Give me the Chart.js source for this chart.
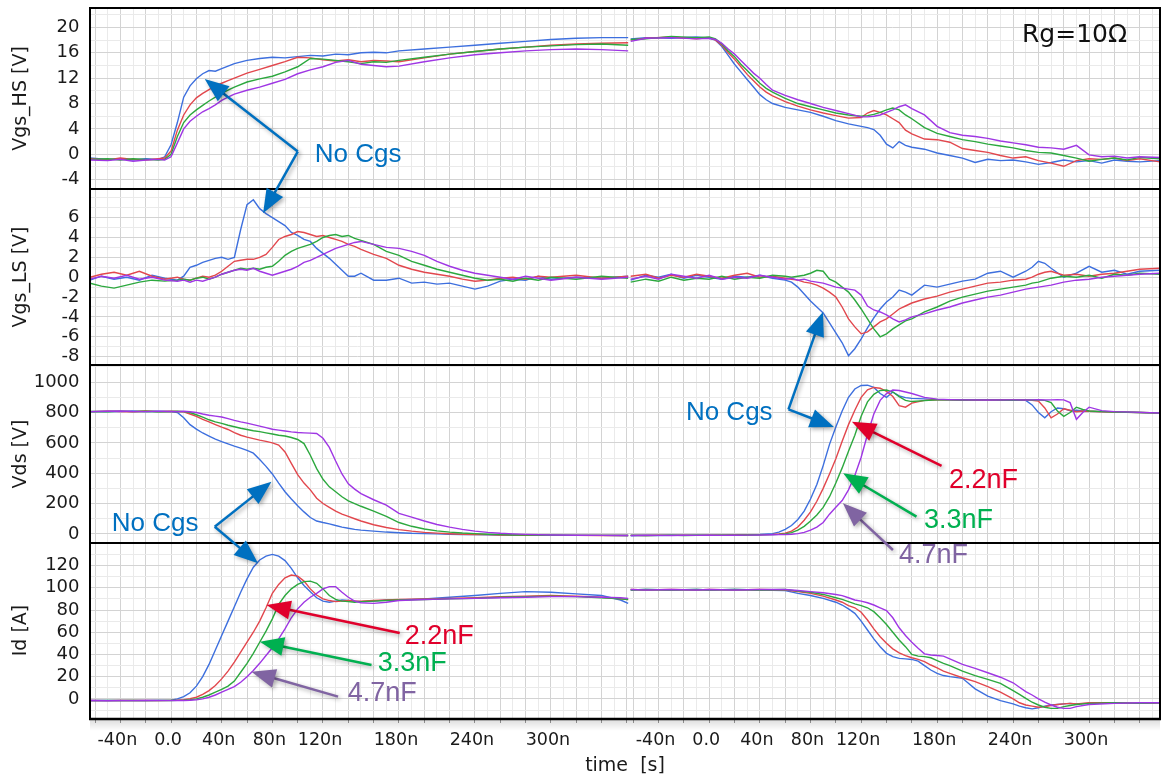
<!DOCTYPE html>
<html>
<head>
<meta charset="utf-8">
<title>Vgs / Vds / Id switching waveforms, Rg=10Ω</title>
<script src="https://cdn.jsdelivr.net/npm/chart.js@4.4.1/dist/chart.umd.min.js"></script>
<style>
html,body{margin:0;padding:0;background:#ffffff;overflow:hidden;}
canvas{display:block;}
</style>
</head>
<body>
<canvas id="chart" width="1161" height="779"></canvas>
<script>
// ================= DATA =================
// turn-on window and turn-off window share one axis; the turn-off window is shifted by OFFSET ns
const OFFSET = 425;
const SERIES_NAMES = ['No Cgs', '2.2nF', '3.3nF', '4.7nF'];
const X_LABEL_TIMES = [-40, 0, 40, 80, 120, 180, 240, 300];
const X_LABEL_TEXTS = ['-40n', '0.0', '40n', '80n', '120n', '180n', '240n', '300n'];
const HS_TICKS = [-4, 0, 4, 8, 12, 16, 20];
const LS_TICKS = [-8, -6, -4, -2, 0, 2, 4, 6];
const VDS_TICKS = [0, 200, 400, 600, 800, 1000];
const ID_TICKS = [0, 20, 40, 60, 80, 100, 120];

// ---- Vgs_HS [V] ----
const T_HS_ON = [-64,-50,-40,-30,-20,-10,-5,
 0,5,10,15,20,25,30,35,40,45,50,
 60,70,80,90,100,110,120,130,140,150,160,170,180,
 200,220,240,260,280,300,320,340,361];
const HS_ON_BLUE = [-0.6,-0.8,-0.7,-0.9,-0.7,-0.8,-0.4,
 1.5,5.0,9.0,10.8,11.9,12.7,13.2,13.1,13.5,13.9,14.3,
 14.8,15.1,15.3,15.2,15.4,15.6,15.5,15.8,15.7,16.0,16.1,16.0,16.3,
 16.6,16.9,17.2,17.5,17.8,18.1,18.3,18.4,18.4];
const HS_ON_RED = [-0.7,-0.9,-0.6,-0.8,-0.9,-0.7,-0.6,
 0.5,3.8,6.2,7.8,8.9,9.6,10.2,10.8,11.2,11.6,12.0,
 12.8,13.4,14.0,14.6,15.3,15.2,14.9,14.7,14.9,14.6,14.8,14.7,14.6,
 15.2,15.8,16.2,16.6,16.9,17.2,17.4,17.5,17.6];
const HS_ON_GREEN = [-0.8,-0.7,-0.9,-0.7,-0.8,-0.9,-0.8,
 0.0,2.8,5.0,6.2,7.0,7.7,8.4,9.0,9.6,10.1,10.6,
 11.4,11.9,12.3,13.0,13.8,15.1,15.0,14.8,14.6,14.3,14.6,14.5,14.8,
 15.3,15.8,16.2,16.6,16.9,17.1,17.3,17.4,17.2];
const HS_ON_PURPLE = [-0.9,-1.0,-0.8,-1.1,-0.9,-0.8,-0.9,
 -0.4,1.8,4.0,5.2,6.0,6.7,7.2,7.8,8.5,9.0,9.5,
 10.1,10.6,11.2,11.8,12.7,13.3,13.8,14.5,14.8,14.2,14.0,13.8,13.9,
 14.6,15.2,15.7,16.0,16.3,16.5,16.6,16.5,16.3];

const T_HS_OFF = [-62,-50,-30,-10,
 0,5,10,15,20,25,30,35,40,45,50,
 60,70,80,90,100,110,120,
 125,130,135,140,145,150,155,160,
 170,180,190,200,210,220,230,240,250,260,270,280,290,300,310,320,330,340,
 356];
const HS_OFF_BLUE = [18.2,18.4,18.3,18.5,
 18.3,18.0,17.0,15.6,14.2,13.0,11.8,10.6,9.4,8.6,8.0,
 7.4,7.0,6.6,6.0,5.3,4.8,4.4,
 4.2,3.9,3.0,1.6,1.0,2.0,1.4,1.1,
 0.8,0.2,-0.2,-0.6,-1.3,-0.8,-1.0,-0.9,-1.2,-1.6,-1.3,-0.9,-1.2,-1.0,-1.4,-0.9,-1.1,-1.2,
 -1.0];
const HS_OFF_RED = [18.0,18.3,18.5,18.2,
 18.4,18.0,17.2,16.0,15.0,13.8,12.6,11.6,10.6,9.8,9.2,
 8.3,7.6,7.0,6.5,6.1,5.7,5.8,
 6.5,6.9,6.6,6.2,5.6,5.0,3.8,3.2,
 2.4,2.3,1.9,0.9,0.6,0.3,-0.2,-0.6,-0.4,-1.0,-1.4,-1.9,-1.0,-0.7,-0.8,-0.6,-1.0,-0.7,
 -1.2];
const HS_OFF_GREEN = [18.1,18.2,18.6,18.4,
 18.5,18.2,17.4,16.3,15.4,14.2,13.2,12.2,11.2,10.4,9.8,
 8.8,8.0,7.5,7.0,6.5,6.2,6.0,
 6.1,6.3,6.6,7.0,7.3,7.0,6.2,5.6,
 4.2,3.3,2.8,2.3,2.0,1.6,1.3,1.0,0.6,0.3,0.2,-0.2,-0.6,-1.1,-0.8,-0.6,-0.9,-0.5,
 -0.7];
const HS_OFF_PURPLE = [17.8,18.3,18.4,18.2,
 18.3,18.1,17.5,16.6,15.8,14.8,13.8,12.8,12.0,11.0,10.1,
 9.3,8.6,8.0,7.4,6.9,6.4,5.9,
 5.9,6.0,6.2,6.6,7.0,7.5,7.8,7.2,
 6.2,4.4,3.4,3.0,2.8,2.5,2.1,1.8,1.5,1.1,1.0,0.8,1.4,-0.1,-0.4,-0.3,-0.6,-0.4,
 -0.5];

// ---- Vgs_LS [V] ----
const T_LS_ON = [-64,-55,-45,-35,-25,-15,-5,
 5,10,15,20,25,30,35,40,45,50,55,60,65,70,75,80,85,90,95,100,105,110,115,120,125,130,135,140,145,150,
 160,170,180,190,200,210,220,230,240,250,260,270,280,290,300,
 320,340,361];
const LS_ON_BLUE = [-0.3,0.1,-0.2,0.0,-0.3,0.2,-0.1,
 -0.3,0.1,1.0,1.2,1.5,1.7,1.9,2.0,1.8,2.0, 4.8,7.3,7.8,6.9,6.4,6.0,5.6,5.2,4.5,4.2, 3.8,3.6,2.9,2.4,1.9,1.3,0.7,0.1,0.1,0.4,
 -0.3,-0.3,-0.1,-0.6,-0.5,-0.7,-0.6,-0.9,-1.2,-0.9,-0.4,-0.2,-0.3,0.1,-0.2,
 0.0,-0.1,0.1];
const LS_ON_RED = [0.0,0.3,0.5,0.2,0.6,0.1,-0.2,
 0.0,-0.2,-0.3,-0.1,0.1,0.0,0.2,0.6,1.1,1.6, 1.7,1.8,1.8,2.0,2.3,3.0,3.8,4.1,4.3,4.6, 4.5,4.3,4.1,4.2,4.0,3.8,3.6,3.3,3.1,2.8,
 2.3,1.9,1.2,0.8,0.5,0.3,0.1,-0.2,-0.4,-0.3,-0.1,0.0,-0.2,0.1,0.0,
 0.2,-0.1,0.1];
const LS_ON_GREEN = [-0.6,-0.9,-1.1,-0.8,-0.5,-0.3,-0.4,
 -0.3,-0.2,-0.3,-0.1,0.0,-0.2,0.0,0.3,0.5,0.7, 0.9,0.8,0.9,0.8,1.0,1.1,1.6,2.2,2.6,2.9, 3.1,3.3,3.6,4.0,4.2,4.3,4.1,4.2,3.9,3.7,
 3.3,2.6,2.2,1.6,1.2,0.8,0.5,0.2,-0.1,-0.3,-0.2,-0.4,-0.1,-0.3,0.0,
 -0.2,0.1,-0.1];
const LS_ON_PURPLE = [-0.2,0.1,-0.1,0.2,-0.2,0.0,-0.3,
 -0.4,-0.3,-0.5,-0.3,-0.4,-0.2,0.0,0.3,0.5,0.7, 0.8,0.7,0.9,0.6,0.4,0.2,0.4,0.6,0.8,1.1, 1.5,1.7,2.0,2.3,2.6,2.9,3.1,3.3,3.5,3.6,
 3.3,3.0,2.9,2.6,2.2,1.6,1.1,0.7,0.4,0.2,0.0,-0.2,0.1,-0.1,-0.3,
 0.0,-0.2,0.0];

const T_LS_OFF = [-62,-50,-40,-30,-20,-10,
 0,10,20,30,40,50,60,
 65,70,75,80,85,90,95,100,105,110,115,120,125,130,135,140,145,150,155,160,
 170,180,190,200,210,220,230,240,250,
 255,260,265,270,
 280,290,300,310,320,330,340,
 356];
const LS_OFF_BLUE = [-0.3,0.2,0.0,0.3,-0.1,0.2,
 0.0,-0.2,0.1,0.0,0.2,-0.1,-0.3,
 -0.5,-1.0,-1.7,-2.4,-3.0,-3.6,-4.6,-5.6,-6.6,-7.9, -7.2,-6.2,-5.1,-4.1,-3.2,-2.5,-2.0,-1.3,-1.5,-1.8,
 -0.8,-1.0,-0.7,-0.4,-0.2,0.4,0.6,0.0,0.6,
 1.0,1.6,1.4,0.9,
 0.0,0.4,1.1,0.5,0.7,0.3,0.6,
 0.7];
const LS_OFF_RED = [0.1,0.3,-0.1,0.2,0.0,0.3,
 0.1,-0.1,0.2,0.4,0.0,0.1,-0.1,
 -0.2,-0.3,-0.5,-0.6,-0.8,-1.1,-1.5,-2.0,-3.0,-4.2, -5.0,-5.7,-5.5,-5.0,-4.5,-4.2,-3.7,-3.2,-2.9,-2.6,
 -2.2,-1.9,-1.5,-1.2,-0.9,-0.6,-0.5,-0.3,-0.2,
 0.0,0.3,0.5,0.6,
 0.2,0.3,0.1,0.3,0.4,0.6,0.8,
 0.9];
const LS_OFF_GREEN = [-0.5,-0.2,-0.4,0.0,-0.3,-0.1,
 -0.2,0.1,-0.2,0.0,-0.1,0.2,0.1,
 0.0,0.1,0.2,0.4,0.7,0.6,-0.2,-0.5,-1.0,-1.5, -2.3,-3.2,-4.2,-5.2,-6.0,-5.7,-5.2,-4.8,-4.4,-4.2,
 -3.5,-3.0,-2.4,-2.0,-1.7,-1.4,-1.2,-1.0,-0.8,
 -0.6,-0.5,-0.3,-0.1,
 0.1,0.0,0.2,-0.1,0.3,0.2,0.4,
 0.3];
const LS_OFF_PURPLE = [-0.2,0.1,-0.2,0.3,0.1,-0.1,
 0.2,-0.2,0.0,-0.1,0.2,0.0,-0.2,
 -0.1,-0.3,-0.2,-0.4,-0.5,-0.6,-0.8,-1.0,-1.1,-1.2, -1.3,-1.8,-2.9,-3.3,-3.5,-3.8,-4.2,-4.5,-4.3,-4.0,
 -3.7,-3.3,-3.0,-2.6,-2.3,-2.0,-1.8,-1.5,-1.2,
 -1.1,-1.0,-0.9,-0.8,
 -0.5,-0.3,-0.2,0.0,0.1,0.2,0.3,
 0.4];

// ---- Vds [V] ----
const T_VDS_ON = [-64,-50,-40,-30,-20,-10,0,
 5,10,15,20,25,30,35,40,45,50,55,60,65,70,75,80,85,90,95,100,105,110,115,120,125,130,135,140,145,150,
 160,170,180,190,200,210,220,230,240,250,260,270,280,
 300,320,340,361];
const VDS_ON_BLUE = [805,808,806,810,807,808,806,
 800,765,720,690,665,645,625,608,593,578, 565,550,532,490,445,395,335,278,230,185, 145,108,85,75,66,55,45,37,30,25,
 18,12,8,4,2,0,-2,-4,-5,-6,-7,-8,-8,
 -9,-10,-10,-11];
const VDS_ON_RED = [806,809,807,805,810,806,808,
 807,805,790,775,755,738,720,703,688,668, 650,638,628,618,610,600,585,540,465,390, 335,290,235,200,175,150,130,115,100,85,
 60,42,28,18,10,5,1,-2,-4,-5,-7,-8,-9,
 -10,-10,-11,-11];
const VDS_ON_GREEN = [807,805,809,806,808,805,807,
 808,806,800,785,770,752,738,728,716,706, 696,688,680,674,666,658,650,645,635,622, 595,518,430,360,310,278,245,218,200,182,
 150,115,75,50,32,20,12,6,2,-2,-5,-7,-8,
 -9,-10,-10,-11];
const VDS_ON_PURPLE = [806,808,810,807,806,809,807,
 806,808,805,800,790,782,776,770,760,748, 738,730,720,710,700,690,684,678,672,668, 666,664,662,630,570,480,395,330,295,265,
 225,190,135,110,85,62,45,30,18,10,4,0,-3,
 -7,-9,-10,-11];

const T_VDS_OFF = [-62,-50,-40,-30,-20,-10,
 0,10,20,30,40,50,
 55,60,65,70,75,80,85,90,95,100,105,110,115,120,125,130,135,140,145,150,155,160,
 170,180,190,200,
 220,240,
 250,255,260,265,270,275,280,285,290,295,300,
 310,320,340,
 356];
const VDS_OFF_BLUE = [-12,-10,-11,-9,-10,-8,
 -9,-8,-7,-6,-4,2,
 12,30,55,95,150,230,325,450,590,705,810, 900,955,978,980,965,925,900,935,910,898,893,
 890,885,884,882,
 883,882,
 880,850,800,765,805,830,825,812,815,810,808,
 806,804,800,
 796];
const VDS_OFF_RED = [-10,-11,-9,-10,-8,-10,
 -8,-9,-7,-6,-5,-3,
 0,5,18,45,90,145,215,300,395,495,610, 720,815,900,950,965,960,940,905,845,835,862,
 880,884,883,882,
 884,882,
 883,880,875,830,765,790,825,815,805,810,808,
 805,803,800,
 797];
const VDS_OFF_GREEN = [-9,-11,-10,-8,-11,-9,
 -10,-8,-9,-7,-6,-5,
 -3,0,8,25,50,85,125,175,245,335,435, 545,650,775,870,920,945,948,935,905,880,872,
 878,884,883,882,
 883,881,
 882,883,882,880,865,810,775,800,835,820,810,
 806,803,800,
 797];
const VDS_OFF_PURPLE = [-11,-9,-10,-11,-9,-10,
 -8,-10,-9,-8,-7,-6,
 -5,-4,-2,2,10,25,45,75,130,175,220, 290,385,505,655,790,880,925,948,945,935,925,
 900,888,885,883,
 882,883,
 882,883,884,882,883,884,883,865,755,800,835,
 812,806,801,
 797];

// ---- Id [A] ----
const T_ID_ON = [-64,-50,-40,-30,-20,-10,0,
 5,10,15,20,25,30,35,40,45,50,55,60,65,70,75,80,85,90,95,100,105,110,115,120,125,130,135,140,145,150,
 160,170,180,
 200,220,240,260,280,300,320,340,
 355,361];
const ID_ON_BLUE = [-1.5,-1.3,-1.6,-1.4,-1.5,-1.3,-1.2,
 0.0,2.0,5.5,11.5,20,31,44,57,70,83, 96,108,118.5,125,128.5,130,128.5,124.5,117.5,109, 102,96.5,91,88,87,88,89,88.5,88,87.5,
 88,89,89,
 90,91.5,93,95,96.5,96,94.5,93,
 89,86];
const ID_ON_RED = [-1.4,-1.6,-1.3,-1.5,-1.4,-1.6,-1.3,
 -1.2,-0.8,0.2,1.5,4,7.5,12,18,25,33, 42,51,60,70,82,95,103,109,111.5,110.5, 106,99,93.5,90,88.5,87.5,88,88.5,88,88,
 88.5,89,89.5,
 90,90.5,91,92,92.5,93,92.5,91.5,
 90,89.5];
const ID_ON_GREEN = [-1.6,-1.4,-1.5,-1.3,-1.6,-1.4,-1.5,
 -1.3,-1.2,-0.8,0,1.5,3.5,6,8.5,11.5,16, 24,32,41,51,61,72,85,93,99,103, 105.5,106,104,99,93,89.5,88,87.5,87,87.5,
 88,88.5,89,
 89.5,90,90.5,91.5,92,92.5,92,91,
 90,89.5];
const ID_ON_PURPLE = [-1.5,-1.7,-1.4,-1.6,-1.5,-1.3,-1.6,
 -1.5,-1.4,-1.2,-0.8,0,1.5,3.5,6,8.5,11, 15,20,25.5,32,39,46,54,63,73,81, 87,91.5,95,99,101,101,96,91.5,88,86.5,
 86,87,88.5,
 89.5,90,90.5,91,91.5,92,92,91.5,
 91,90.5];

const T_ID_OFF = [-62,-50,-30,-10,
 0,20,40,60,
 70,80,90,100,
 105,110,115,120,125,130,135,140,145,150,155,160,165,170,175,180,185,190,
 200,210,220,230,240,
 245,250,255,260,265,270,275,280,285,290,
 300,320,340,
 356];
const ID_OFF_BLUE = [98,98.5,98,98.5,
 98,98.5,98,97.5,
 95,93,90.5,87,
 84.5,81,77,70,62,54,47,41,38,36.5,36,35.5,34,30,26,23,21,20,
 18.5,9,2.5,-1.5,-4.5,
 -6.5,-8,-9,-8,-6.5,-5.5,-5,-4.5,-4,-4.5,
 -4,-3.5,-4,
 -3.5];
const ID_OFF_RED = [98.5,98,98.5,98,
 98.5,98,98.5,98,
 96.5,95,92.5,89,
 87,84,82,78,71,63,56,50,45,41.5,39,37,35.5,33.5,30.5,28,25,23,
 19,15.5,11,6,0,
 -3.5,-5.5,-6.5,-7.5,-7,-6,-5,-4.5,-4,-4.5,
 -3.5,-3.5,-4,
 -3.5];
const ID_OFF_GREEN = [98,98.5,98,98.5,
 98,98.5,98,98.5,
 97,96,94,91,
 89.5,87.5,85.5,84,82,78.5,73,67,60,53,47,40,38.5,38,37,34.5,32,30,
 25,21,17.5,14,7.5,
 4,0.5,-3,-5.5,-7.5,-8.5,-8.5,-7,-6,-5,
 -4,-3.5,-4,
 -3.5];
const ID_OFF_PURPLE = [98.5,98,98.5,98,
 98.5,98,98.5,98.5,
 97.5,96.5,95.5,94,
 93,91,89,88,86.5,84.5,82,79.5,73,64,57,51,45.5,40.5,39.5,39,38.5,36,
 31,27.5,23.5,19.5,14.5,
 10.5,6.5,3.5,0,-3,-5.5,-7.5,-8.5,-8.5,-7,
 -5,-4,-3.5,
 -3.5];

// ================= STYLE / LAYOUT =================
const FONT = '"DejaVu Sans", Verdana, sans-serif';
const NOTE_FONT = '"Liberation Sans", Arial, sans-serif';
const TRACE_COLORS = ['#3d6fde', '#e2474d', '#2ca83e', '#9f36e4'];
const GRID_MAJOR = '#d3d3d3', GRID_MINOR = '#eaeaea';
const NOTE_BLUE = '#0070c0', NOTE_RED = '#e0002b', NOTE_GREEN = '#00b050', NOTE_PURPLE = '#8064a2';

const problems = [];
function pts(name, times, vals, shift) {
  if (times.length !== vals.length) problems.push(name + ' ' + times.length + '/' + vals.length);
  return times.map((t, i) => ({x: t + shift, y: vals[i]}));
}

const PANELS = [
  {axis: 'yHS', name: 'HS', tOn: T_HS_ON, on: [HS_ON_BLUE, HS_ON_RED, HS_ON_GREEN, HS_ON_PURPLE],
   tOff: T_HS_OFF, off: [HS_OFF_BLUE, HS_OFF_RED, HS_OFF_GREEN, HS_OFF_PURPLE]},
  {axis: 'yLS', name: 'LS', tOn: T_LS_ON, on: [LS_ON_BLUE, LS_ON_RED, LS_ON_GREEN, LS_ON_PURPLE],
   tOff: T_LS_OFF, off: [LS_OFF_BLUE, LS_OFF_RED, LS_OFF_GREEN, LS_OFF_PURPLE]},
  {axis: 'yVds', name: 'VDS', tOn: T_VDS_ON, on: [VDS_ON_BLUE, VDS_ON_RED, VDS_ON_GREEN, VDS_ON_PURPLE],
   tOff: T_VDS_OFF, off: [VDS_OFF_BLUE, VDS_OFF_RED, VDS_OFF_GREEN, VDS_OFF_PURPLE]},
  {axis: 'yId', name: 'ID', tOn: T_ID_ON, on: [ID_ON_BLUE, ID_ON_RED, ID_ON_GREEN, ID_ON_PURPLE],
   tOff: T_ID_OFF, off: [ID_OFF_BLUE, ID_OFF_RED, ID_OFF_GREEN, ID_OFF_PURPLE]}
];

const datasets = [];
for (const p of PANELS) {
  for (let s = 3; s >= 0; s--) {   // 4.7nF first so it is painted on top
    const common = {label: SERIES_NAMES[s], xAxisID: 'x', yAxisID: p.axis, borderColor: TRACE_COLORS[s],
      backgroundColor: TRACE_COLORS[s], borderWidth: 1.4, pointRadius: 0, tension: 0, fill: false};
    datasets.push(Object.assign({}, common, {data: pts(p.name + '_ON_' + s, p.tOn, p.on[s], 0)}));
    datasets.push(Object.assign({}, common, {data: pts(p.name + '_OFF_' + s, p.tOff, p.off[s], OFFSET)}));
  }
}

const localT = v => (v > 362 ? v - OFFSET : v);
const isMajorX = v => Math.abs(localT(v) % 20) < 1e-6;

function yAxis(title, min, max, step, labelled, weight) {
  return {
    type: 'linear', position: 'left', stack: 'panels', stackWeight: weight, min: min, max: max,
    afterBuildTicks(scale) {
      const t = [];
      for (let v = Math.ceil(min / step) * step; v <= max + 1e-9; v += step) t.push({value: Math.round(v * 1000) / 1000});
      scale.ticks = t;
    },
    afterFit(scale) { scale.width = 90; scale.paddingTop = 0; scale.paddingBottom = 0; },
    border: {display: false},
    grid: {drawTicks: false, lineWidth: 1,
      color: c => (c.tick && labelled.includes(c.tick.value)) ? GRID_MAJOR : GRID_MINOR},
    ticks: {autoSkip: false, padding: 10.5, color: '#1a1a1a', font: {family: FONT, size: 18},
      callback: v => (labelled.includes(v) ? String(v) : '')},
    title: {display: true, text: title, color: '#1a1a1a', font: {family: FONT, size: 19},
      padding: {top: 10, bottom: 0}}
  };
}

// annotation anchors in data space: [axis, time on shared axis, value]
const NOTES = [
  {text: 'No Cgs', color: NOTE_BLUE, size: 26, at: ['yHS', 113.5, -0.12],
   arrows: [[['yHS', 100.1, 0.43], ['yHS', 26.6, 11.87]], [['yHS', 100.1, 0.43], ['yLS', 72.7, 6.44]]]},
  {text: 'No Cgs', color: NOTE_BLUE, size: 26, at: ['yVds', -46.8, 65.3],
   arrows: [[['yVds', 34.5, 47.5], ['yVds', 79.3, 344]], [['yVds', 34.5, 47.5], ['yId', 68.7, 122]]]},
  {text: 'No Cgs', color: NOTE_BLUE, size: 26, at: ['yVds', 406.6, 800],
   arrows: [[['yVds', 487.6, 821], ['yLS', 514.8, -3.5]], [['yVds', 487.6, 821], ['yVds', 523.5, 704.7]]]},
  {text: '2.2nF', color: NOTE_RED, size: 27, at: ['yVds', 614.3, 348.7],
   arrows: [[['yVds', 608.5, 447.6], ['yVds', 537.7, 739.6]]]},
  {text: '3.3nF', color: NOTE_GREEN, size: 27, at: ['yVds', 594.6, 85],
   arrows: [[['yVds', 588.7, 113.4], ['yVds', 530.8, 399.5]]]},
  {text: '4.7nF', color: NOTE_PURPLE, size: 27, at: ['yId', 574.8, 128.6],
   arrows: [[['yVds', 570.1, -106], ['yVds', 530.6, 201.7]]]},
  {text: '2.2nF', color: NOTE_RED, size: 27, at: ['yId', 184.6, 55.7],
   arrows: [[['yId', 180.6, 59.3], ['yId', 75.4, 84.5]]]},
  {text: '3.3nF', color: NOTE_GREEN, size: 27, at: ['yId', 163.3, 31.4],
   arrows: [[['yId', 158.3, 30.5], ['yId', 70.1, 51.5]]]},
  {text: '4.7nF', color: NOTE_PURPLE, size: 27, at: ['yId', 139.6, 4.4],
   arrows: [[['yId', 131.9, 2.0], ['yId', 63.5, 24.5]]]}
];
const RG_LABEL = {text: 'Rg=10Ω', at: ['yHS', 672.0, 18.8]};

function drawArrow(ctx, x0, y0, x1, y1, color) {
  const ang = Math.atan2(y1 - y0, x1 - x0), L = 24, W = 9.5;
  const bx = x1 - L * Math.cos(ang), by = y1 - L * Math.sin(ang);
  ctx.save();
  ctx.strokeStyle = color; ctx.fillStyle = color; ctx.lineWidth = 2.5; ctx.lineCap = 'butt';
  ctx.shadowColor = 'rgba(0,0,0,0.32)'; ctx.shadowBlur = 4; ctx.shadowOffsetX = 2; ctx.shadowOffsetY = 2;
  ctx.beginPath(); ctx.moveTo(x0, y0); ctx.lineTo(bx + 2 * Math.cos(ang), by + 2 * Math.sin(ang)); ctx.stroke();
  ctx.beginPath();
  ctx.moveTo(x1, y1);
  ctx.lineTo(bx + W * Math.sin(ang), by - W * Math.cos(ang));
  ctx.lineTo(bx - W * Math.sin(ang), by + W * Math.cos(ang));
  ctx.closePath(); ctx.fill();
  ctx.restore();
}

const overlayPlugin = {
  id: 'overlay',
  afterDatasetsDraw(chart) {
    const {ctx, chartArea: a, scales} = chart;
    ctx.save();
    const g = ctx.createLinearGradient(0, a.bottom + 1, 0, a.bottom + 13);
    g.addColorStop(0, 'rgba(0,0,0,0.14)'); g.addColorStop(1, 'rgba(0,0,0,0)');
    ctx.fillStyle = g; ctx.fillRect(a.left, a.bottom + 1, a.right - a.left, 12);
    ctx.strokeStyle = '#000'; ctx.lineWidth = 2;
    ctx.beginPath();
    ctx.moveTo(a.left, a.top); ctx.lineTo(a.right, a.top);
    ctx.moveTo(a.left, a.top - 1); ctx.lineTo(a.left, a.bottom + 1);
    ctx.moveTo(a.right, a.top - 1); ctx.lineTo(a.right, a.bottom + 1);
    for (const id of ['yLS', 'yVds', 'yId']) {
      const y = scales[id].top;
      ctx.moveTo(a.left, y); ctx.lineTo(a.right, y);
    }
    ctx.stroke();
    ctx.lineWidth = 2.5;
    ctx.beginPath(); ctx.moveTo(a.left - 1, a.bottom + 1); ctx.lineTo(a.right + 1, a.bottom + 1); ctx.stroke();
    ctx.restore();
  },
  afterDraw(chart) {
    const {ctx, scales} = chart;
    const P = q => [scales.x.getPixelForValue(q[1]), scales[q[0]].getPixelForValue(q[2])];
    for (const n of NOTES) {
      for (const ar of n.arrows) {
        const a0 = P(ar[0]), a1 = P(ar[1]);
        drawArrow(ctx, a0[0], a0[1], a1[0], a1[1], n.color);
      }
    }
    ctx.save();
    ctx.textBaseline = 'middle'; ctx.textAlign = 'left';
    for (const n of NOTES) {
      const p = P(n.at);
      ctx.font = n.size + 'px ' + NOTE_FONT; ctx.fillStyle = n.color;
      ctx.fillText(n.text, p[0], p[1]);
    }
    const r = P(RG_LABEL.at);
    ctx.font = '25px ' + FONT; ctx.fillStyle = '#111';
    ctx.fillText(RG_LABEL.text, r[0], r[1]);
    if (problems.length) {
      ctx.font = '12px ' + FONT; ctx.fillStyle = 'red';
      ctx.fillText(problems.join(' | '), 100, 770);
    }
    ctx.restore();
  }
};

new Chart(document.getElementById('chart'), {
  type: 'line',
  data: {datasets: datasets},
  options: {
    responsive: false, animation: false, devicePixelRatio: 1, events: [],
    layout: {padding: {top: 8, left: 0, right: 1, bottom: 0}},
    plugins: {legend: {display: false}, tooltip: {enabled: false}},
    scales: {
      x: {
        type: 'linear', position: 'bottom', min: -64, max: 781,
        afterBuildTicks(scale) {
          const t = [];
          for (let v = -60; v <= 360; v += 10) t.push({value: v});
          for (let v = -60; v <= 350; v += 10) t.push({value: v + OFFSET});
          scale.ticks = t;
        },
        afterFit(scale) { scale.height = 61; scale.paddingLeft = 0; scale.paddingRight = 0; },
        border: {display: false},
        grid: {lineWidth: 1, drawTicks: true, tickLength: 5, tickWidth: 1,
          color: c => (c.tick && isMajorX(c.tick.value)) ? GRID_MAJOR : GRID_MINOR,
          tickColor: c => (c.tick && isMajorX(c.tick.value)) ? '#9a9a9a' : 'rgba(0,0,0,0)'},
        ticks: {autoSkip: false, maxRotation: 0, minRotation: 0, padding: 6.5, labelOffset: -3,
          color: '#1a1a1a', font: {family: FONT, size: 17.5},
          callback: v => { const i = X_LABEL_TIMES.indexOf(localT(v)); return i >= 0 ? X_LABEL_TEXTS[i] : ''; }},
        title: {display: true, text: 'time  [s]', color: '#1a1a1a', font: {family: FONT, size: 19},
          padding: {top: 0, bottom: 2}}
      },
      yId: yAxis('Id [A]', -17.2, 140.3, 10, ID_TICKS, 175),
      yVds: yAxis('Vds [V]', -60, 1113, 100, VDS_TICKS, 178),
      yLS: yAxis('Vgs_LS [V]', -8.84, 8.88, 1, LS_TICKS, 176),
      yHS: yAxis('Vgs_HS [V]', -5.48, 23.07, 2, HS_TICKS, 181)
    }
  },
  plugins: [overlayPlugin]
});
</script>
</body>
</html>
